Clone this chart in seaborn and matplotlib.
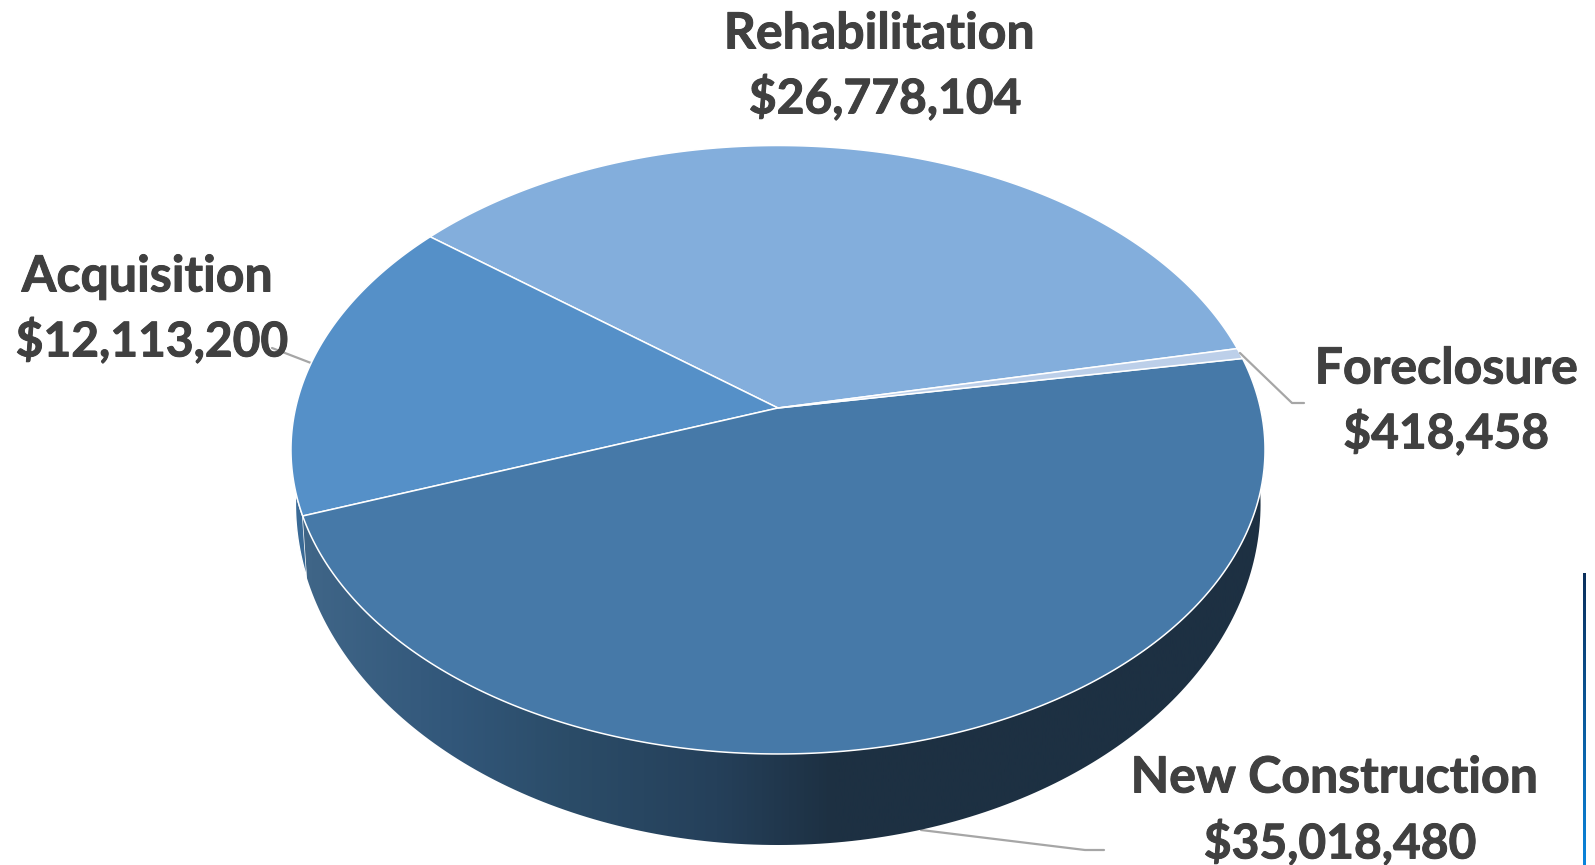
import numpy as np
import matplotlib.pyplot as plt
import matplotlib.patheffects as pe
from matplotlib.colors import LinearSegmentedColormap
from matplotlib.patches import Polygon
import seaborn as sns

# Valeurs du graphique
categories = ["Rehabilitation", "Acquisition", "New Construction", "Foreclosure"]
amounts = [26778104, 12113200, 35018480, 418458]
amount_labels = ["$26,778,104", "$12,113,200", "$35,018,480", "$418,458"]
top_colors = ["#83AEDC", "#5590C8", "#4679A8", "#BCCFE9"]

sns.set_theme(style="white")
plt.rcParams["font.family"] = ["Lato", "DejaVu Sans"]

fig = plt.figure(figsize=(15.95, 8.65), dpi=100)
ax = fig.add_axes([0, 0, 1, 1])

# Pie de base, ensuite projete pour l'effet 3D
wedges, _ = ax.pie(amounts, colors=top_colors, startangle=11.8, radius=1)
ax.set_aspect("auto")
ax.axis("off")

K = 0.1372


def project(pts, cx, cy, a, b):
    w = 1 + K * pts[:, 1]
    return np.column_stack([cx + a * pts[:, 0] / w, cy - b * pts[:, 1] / w])


def top_face(pts):
    return project(pts, 778, 408, 482.4, 298.5)


def bottom_face(pts):
    return project(pts, 778, 457.2, 478, 334.6)


def arc(wedge, n=200):
    t = np.radians(np.linspace(wedge.theta1, wedge.theta2, n))
    return np.column_stack([np.cos(t), np.sin(t)])


# Degrade du flanc
wall_cmap = LinearSegmentedColormap.from_list(
    "wall", [(0, "#406688"), (0.155, "#32577A"), (0.276, "#2B4C68"), (0.43, "#25405A"),
             (0.55, "#1D3042"), (1, "#1D3042")]
)
gradient = np.linspace(0, 1, 512).reshape(1, -1)

# Flancs visibles : Acquisition puis New Construction
acq = arc(wedges[1])
ax.add_patch(Polygon(np.vstack([top_face(acq), bottom_face(acq)[::-1]]),
                     facecolor="#3A6A96", edgecolor="white", lw=1, zorder=1))

new = arc(wedges[2])
wall = Polygon(np.vstack([top_face(new), bottom_face(new)[::-1]]),
               facecolor="none", edgecolor="none", zorder=2)
ax.add_patch(wall)
img = ax.imshow(gradient, cmap=wall_cmap, extent=(300, 1270, 865, 0), aspect="auto", zorder=2)
img.set_clip_path(wall)

# Dessus du camembert
for wedge, color in zip(wedges, top_colors):
    outline = np.vstack([[0, 0], arc(wedge, 300)])
    wedge.set_visible(False)
    ax.add_patch(Polygon(top_face(outline), closed=True, facecolor=color,
                         edgecolor="white", lw=1.1, joinstyle="round", zorder=3))

# Traits de rappel
leader = "#A6A6A6"
ax.plot([1240, 1292, 1304], [353, 403, 403], color=leader, lw=1.6, zorder=4)
ax.plot([272, 311], [348, 363], color=leader, lw=1.6, zorder=1)
ax.plot([921, 1085, 1104], [830, 850, 850], color=leader, lw=1.6, zorder=1)

# Etiquettes
label_pos = [((879, 34), (885, 98)), ((147, 277), (152, 341)),
             ((1334, 778), (1340, 843)), ((1446, 369), (1446, 433))]
heavy = [pe.withStroke(linewidth=0.7, foreground="#404040")]
for name, amount, (p1, p2) in zip(categories, amount_labels, label_pos):
    ax.text(p1[0], p1[1], name, ha="center", va="center", fontsize=36,
            fontweight="bold", color="#404040", zorder=5, path_effects=heavy)
    ax.text(p2[0], p2[1], amount, ha="center", va="center", fontsize=34.5,
            fontweight="bold", color="#404040", zorder=5, path_effects=heavy)

# Bord du cadre a droite, degrade vertical
edge_cmap = LinearSegmentedColormap.from_list("edge", ["#0A2F5C", "#0A85DC"])
ax.imshow(np.linspace(0, 1, 256).reshape(-1, 1), cmap=edge_cmap, extent=(1583, 1586, 865, 573),
          aspect="auto", zorder=5)

ax.set_xlim(0, 1595)
ax.set_ylim(865, 0)

fig.savefig("out.png", dpi=100)
